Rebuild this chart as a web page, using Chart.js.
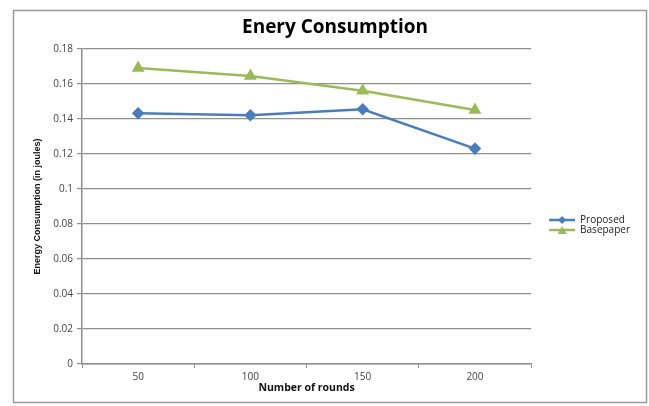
<!DOCTYPE html>
<html>
<head>
<meta charset="utf-8">
<script src="https://cdn.jsdelivr.net/npm/chart.js@4/dist/chart.umd.min.js"></script>
<style>
  html, body { margin: 0; padding: 0; background: #fff; }
  #wrap { position: relative; width: 649px; height: 406px; }
</style>
</head>
<body>
<div id="wrap"><canvas id="energyChart" width="649" height="406"></canvas></div>
<script>
// values
const rounds = ['50', '100', '150', '200'];
const proposed = [0.1432, 0.142, 0.1455, 0.123];
const basepaper = [0.169, 0.1645, 0.156, 0.145];
const yTicks = [0, 0.02, 0.04, 0.06, 0.08, 0.1, 0.12, 0.14, 0.16, 0.18];

const blue = '#4a7ebb';
const green = '#9bbb59';
const gridGray = '#8f8f8f';

// little line + marker picture for the legend (excel look)
// left part is blank so the legend sits away from the plot
function legendMark(color, style) {
  const c = document.createElement('canvas');
  c.width = 44; c.height = 10;
  const ctx = c.getContext('2d');
  ctx.strokeStyle = color;
  ctx.lineWidth = 2.5;
  ctx.beginPath(); ctx.moveTo(18, 5); ctx.lineTo(44, 5); ctx.stroke();
  ctx.fillStyle = color;
  ctx.beginPath();
  if (style === 'diamond') {
    ctx.moveTo(31, 1); ctx.lineTo(35, 5); ctx.lineTo(31, 9); ctx.lineTo(27, 5);
  } else {
    ctx.moveTo(31, 1); ctx.lineTo(35.5, 9); ctx.lineTo(26.5, 9);
  }
  ctx.closePath(); ctx.fill();
  return c;
}

// outer frame like the office chart border
const frame = {
  id: 'frame',
  beforeDraw(chart) {
    const ctx = chart.ctx;
    ctx.save();
    ctx.fillStyle = '#fff';
    ctx.fillRect(0, 0, chart.width, chart.height);
    ctx.strokeStyle = '#9a9a9a';
    ctx.lineWidth = 1.5;
    ctx.strokeRect(13.5, 10.5, 633, 392);
    ctx.restore();
  }
};

new Chart(document.getElementById('energyChart'), {
  type: 'line',
  data: {
    labels: rounds,
    datasets: [{
      label: 'Proposed',
      data: proposed,
      borderColor: blue,
      backgroundColor: blue,
      borderWidth: 2.5,
      pointStyle: 'rectRot',
      pointRadius: 4.5,
      pointHoverRadius: 4.5,
      tension: 0
    }, {
      label: 'Basepaper',
      data: basepaper,
      borderColor: green,
      backgroundColor: green,
      borderWidth: 2.5,
      pointStyle: 'triangle',
      pointRadius: 5,
      pointHoverRadius: 5,
      tension: 0
    }]
  },
  options: {
    responsive: false,
    animation: false,
    layout: { padding: { left: 30, right: 9, top: 0, bottom: 12 } },
    plugins: {
      title: {
        display: true,
        text: 'Enery Consumption',
        color: '#000',
        font: { family: 'Open Sans', size: 19, weight: 'bold' },
        padding: { top: 16, bottom: 10 }
      },
      legend: {
        position: 'right',
        // empty title only pushes the two entries a bit lower
        title: { display: true, text: ' ', padding: { top: 22, bottom: 22 }, font: { size: 10 } },
        labels: {
          usePointStyle: true,
          pointStyleWidth: 44,
          boxHeight: 10,
          padding: 0,
          color: '#222',
          font: { family: 'Open Sans', size: 10 },
          generateLabels(chart) {
            return chart.data.datasets.map((ds, i) => ({
              text: ds.label,
              datasetIndex: i,
              fontColor: '#222',
              pointStyle: legendMark(ds.borderColor, i === 0 ? 'diamond' : 'triangle'),
              lineWidth: 0,
              strokeStyle: 'transparent',
              fillStyle: 'transparent'
            }));
          }
        }
      },
      tooltip: { enabled: false }
    },
    scales: {
      x: {
        offset: true,
        afterFit(axis) { axis.height = 30; },
        grid: {
          offset: true,
          drawOnChartArea: false,
          drawTicks: true,
          tickLength: 4,
          color: gridGray
        },
        border: { color: gridGray, width: 1.5 },
        ticks: { color: '#444', font: { family: 'Open Sans', size: 10 }, padding: 3 },
        title: {
          display: true,
          text: 'Number of rounds',
          color: '#111',
          font: { family: 'Open Sans', size: 10.5, weight: 'bold' },
          padding: { top: 0, bottom: 0 }
        }
      },
      y: {
        min: 0,
        max: 0.18,
        afterBuildTicks(axis) {
          axis.ticks = yTicks.map(v => ({ value: v }));
        },
        afterFit(axis) { axis.width = 52; },
        grid: { color: gridGray, lineWidth: 1.2, tickLength: 5 },
        border: { color: gridGray, width: 1.5 },
        ticks: {
          color: '#444',
          font: { family: 'Open Sans', size: 10 },
          padding: 4,
          callback: v => String(parseFloat(v.toFixed(2)))
        },
        title: {
          display: true,
          text: 'Energy Consumption (in joules)',
          color: '#111',
          font: { family: 'Liberation Sans', size: 9, weight: 'bold' },
          padding: { top: 2, bottom: 0 }
        }
      }
    }
  },
  plugins: [frame]
});
</script>
</body>
</html>
